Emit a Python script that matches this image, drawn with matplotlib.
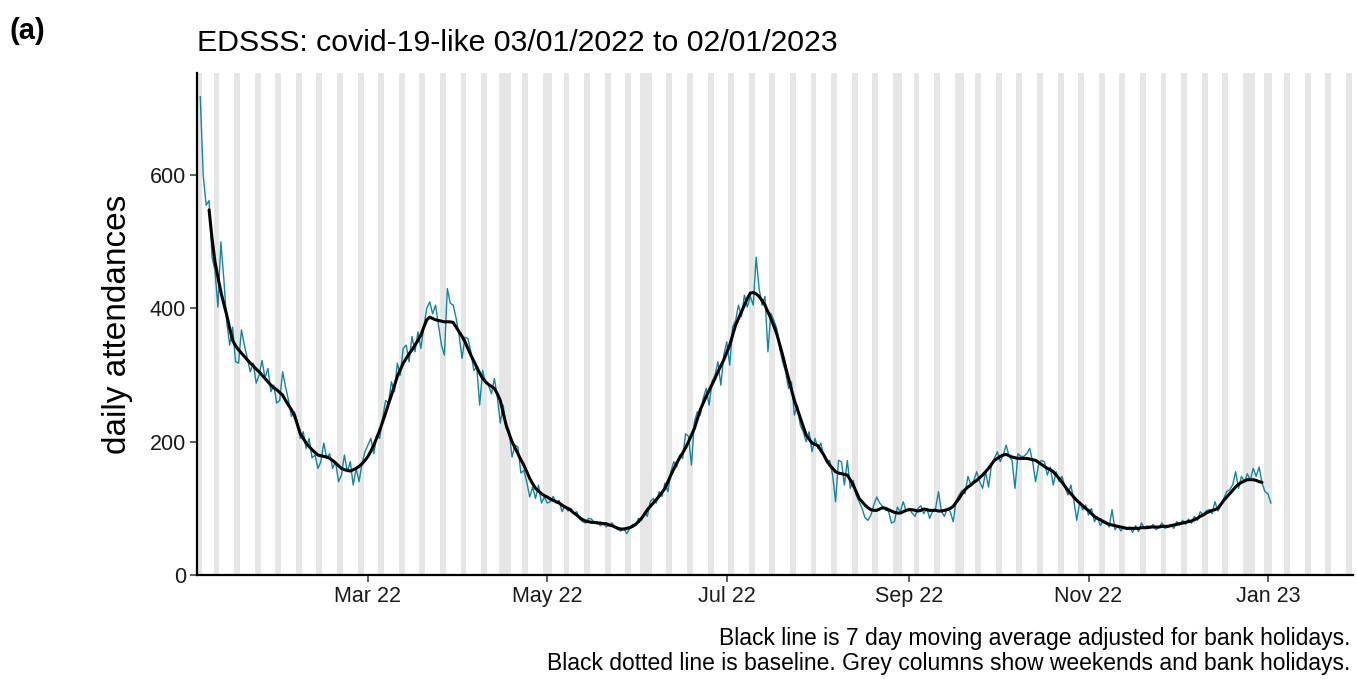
import numpy as np
import pandas as pd
import matplotlib
matplotlib.use('Agg')
import matplotlib.pyplot as plt
import matplotlib.dates as mdates

plt.rcParams['font.family'] = ['Liberation Sans', 'DejaVu Sans']

# daily attendances, 03/01/2022 (Mon) to 02/01/2023, one row per week Mon..Sun
daily = [
    718, 600, 555, 562, 477, 457, 402,
    500, 445, 380, 345, 372, 320, 318,
    368, 345, 325, 305, 318, 288, 300,
    322, 296, 310, 275, 285, 258, 262,
    305, 282, 262, 238, 245, 230, 205,
    215, 190, 205, 176, 180, 160, 170,
    198, 175, 182, 160, 170, 140, 150,
    180, 155, 170, 135, 160, 140, 168,
    185, 195, 205, 182, 210, 205, 235,
    262, 258, 290, 275, 318, 300, 340,
    345, 320, 358, 335, 365, 340, 372,
    400, 410, 392, 405, 375, 345, 330,
    430, 408, 405, 385, 360, 325, 357,
    355, 335, 307, 312, 255, 307, 288,
    285, 272, 295, 267, 228, 255, 220,
    217, 177, 195, 192, 153, 157, 140,
    117, 132, 115, 135, 108, 117, 108,
    110, 118, 108, 112, 95, 104, 96,
    100, 92, 95, 84, 80, 78, 85,
    84, 78, 80, 74, 78, 72, 76,
    78, 72, 68, 66, 70, 62, 70,
    76, 74, 85, 82, 94, 88, 110,
    115, 108, 125, 118, 138, 125, 155,
    170, 162, 180, 175, 212, 208, 165,
    230, 245, 240, 265, 280, 255, 290,
    300, 320, 285, 330, 350, 315, 372,
    382, 405, 388, 420, 402, 418, 405,
    477, 430, 405, 418, 335, 393, 382,
    370, 340, 320, 305, 280, 290, 240,
    255, 225, 215, 200, 215, 185, 205,
    190, 198, 178, 168, 172, 150, 110,
    172, 170, 135, 172, 130, 142, 120,
    110, 100, 86, 82, 90, 105, 117,
    108, 103, 97, 96, 78, 80, 102,
    95, 110, 96, 100, 93, 88, 100,
    104, 92, 100, 85, 96, 100, 125,
    95, 88, 100, 95, 80, 112, 120,
    127, 122, 148, 135, 142, 155, 140,
    130, 155, 132, 165, 175, 185, 170,
    180, 195, 178, 172, 130, 182, 178,
    178, 182, 190, 170, 140, 165, 172,
    170, 150, 162, 135, 155, 140, 148,
    132, 120, 135, 112, 82, 110, 98,
    105, 90, 100, 80, 88, 74, 82,
    80, 72, 98, 68, 74, 66, 72,
    68, 72, 64, 74, 65, 78, 70,
    74, 70, 76, 68, 72, 78, 70,
    72, 76, 70, 80, 75, 82, 76,
    84, 78, 88, 82, 95, 90, 96,
    98, 92, 110, 96, 104, 115, 125,
    128, 135, 155, 130, 148, 140, 152,
    142, 160, 148, 162, 138, 125, 122,
    108,
]

# 7 day moving average (bank holiday adjusted), 06/01/2022 to 30/12/2022
moving_avg = [
    548, 505, 470, 447,
    425, 407, 390, 370, 352, 344, 338,
    333, 328, 323, 318, 314, 309, 305,
    300, 295, 290, 285, 281, 278, 274,
    270, 262, 255, 248, 240, 226, 212,
    205, 198, 193, 188, 184, 180, 179,
    178, 177, 175, 172, 168, 164, 160,
    158, 157, 156, 158, 160, 163, 167,
    172, 178, 186, 195, 206, 217, 230,
    243, 257, 270, 284, 298, 308, 318,
    325, 332, 338, 345, 352, 360, 372,
    383, 387, 385, 383, 382, 381, 380,
    380, 380, 379, 372, 365, 358, 350,
    340, 330, 321, 312, 303, 295, 290,
    286, 283, 280, 272, 262, 243, 225,
    212, 200, 191, 182, 173, 165, 155,
    145, 137, 130, 126, 122, 119, 117,
    114, 112, 110, 108, 105, 102, 100,
    97, 93, 90, 86, 83, 81, 80,
    79, 79, 78, 78, 77, 77, 75,
    74, 72, 70, 69, 69, 70, 71,
    73, 76, 80, 85, 91, 98, 103,
    108, 113, 118, 124, 130, 140, 150,
    159, 168, 176, 183, 191, 200, 210,
    220, 234, 248, 258, 268, 277, 286,
    295, 305, 314, 323, 334, 345, 360,
    375, 385, 395, 405, 415, 423, 424,
    422, 418, 412, 405, 395, 385, 374,
    362, 346, 330, 312, 295, 278, 262,
    249, 236, 223, 210, 204, 198, 196,
    194, 187, 180, 172, 165, 160, 155,
    153, 152, 151, 150, 143, 135, 125,
    115, 110, 105, 101, 98, 97, 97,
    99, 101, 100, 98, 96, 94, 93,
    93, 95, 97, 98, 98, 97, 96,
    97, 99, 98, 97, 97, 97, 96,
    96, 97, 98, 100, 103, 109, 115,
    122, 128, 132, 135, 139, 142, 146,
    150, 155, 160, 166, 172, 175, 178,
    180, 181, 179, 177, 176, 175, 175,
    175, 175, 174, 173, 172, 169, 166,
    163, 160, 158, 155, 150, 145, 139,
    133, 127, 122, 117, 112, 108, 104,
    100, 97, 92, 88, 85, 83, 80,
    78, 76, 75, 74, 73, 72, 71,
    70, 70, 70, 70, 70, 71, 71,
    71, 72, 72, 72, 72, 73, 73,
    73, 74, 75, 76, 77, 78, 79,
    80, 81, 83, 85, 88, 90, 93,
    95, 97, 98, 100, 106, 112, 117,
    122, 127, 132, 136, 139, 141, 143,
    143, 143, 142, 140, 139,
]

bank_holidays = ['2022-01-03', '2022-04-15', '2022-04-18', '2022-05-02',
                 '2022-06-02', '2022-06-03', '2022-08-29', '2022-09-19',
                 '2022-12-26', '2022-12-27', '2023-01-02']

tick_dates = ['2022-03-01', '2022-05-01', '2022-07-01', '2022-09-01',
              '2022-11-01', '2023-01-01']

dates = pd.date_range('2022-01-03', periods=len(daily), freq='D')
ma_dates = pd.date_range('2022-01-06', periods=len(moving_avg), freq='D')

fig = plt.figure(figsize=(13.57, 6.79), dpi=100)
ax = fig.add_axes([0.1452, 0.1532, 0.8518, 0.7398])

# grey columns for weekends and bank holidays
bh = set(pd.to_datetime(bank_holidays))
for d in pd.date_range('2021-12-31', '2023-02-03', freq='D'):
    if d.weekday() >= 5 or d in bh:
        c = mdates.date2num(d)
        ax.axvspan(c - 0.5, c + 0.5, color='#e6e6e6', lw=0, zorder=0)

ax.plot(dates, daily, color='#0f879c', lw=1.0, zorder=2)
ax.plot(ma_dates, moving_avg, color='black', lw=2.2, zorder=3,
        solid_joinstyle='round', solid_capstyle='round')

x0 = mdates.date2num(pd.Timestamp('2022-01-01')) + 0.9
x1 = mdates.date2num(pd.Timestamp('2023-01-29')) + 0.9
ax.set_xlim(x0, x1)
ax.set_ylim(0, 754)

ax.set_yticks([0, 200, 400, 600])
ax.set_xticks(pd.to_datetime(tick_dates))
ax.xaxis.set_major_formatter(mdates.DateFormatter('%b %y'))

for s in ['top', 'right']:
    ax.spines[s].set_visible(False)
for s in ['left', 'bottom']:
    ax.spines[s].set_linewidth(1.6)
    ax.spines[s].set_zorder(5)
ax.tick_params(axis='both', length=5, width=1.1, color='#333333',
               labelsize=15.5, labelcolor='#1a1a1a', pad=3)

ax.set_ylabel('daily attendances', fontsize=24, labelpad=12)

fig.text(0.1452, 0.925, 'EDSSS: covid-19-like 03/01/2022 to 02/01/2023',
         fontsize=21.8, ha='left', va='baseline')
fig.text(0.007, 0.943, '(a)', fontsize=21, fontweight='bold',
         ha='left', va='baseline')
fig.text(0.995, 0.05, 'Black line is 7 day moving average adjusted for bank holidays.',
         fontsize=16.5, ha='right', va='baseline')
fig.text(0.995, 0.013, 'Black dotted line is baseline. Grey columns show weekends and bank holidays.',
         fontsize=16.5, ha='right', va='baseline')

fig.savefig('out.png', dpi=100)
